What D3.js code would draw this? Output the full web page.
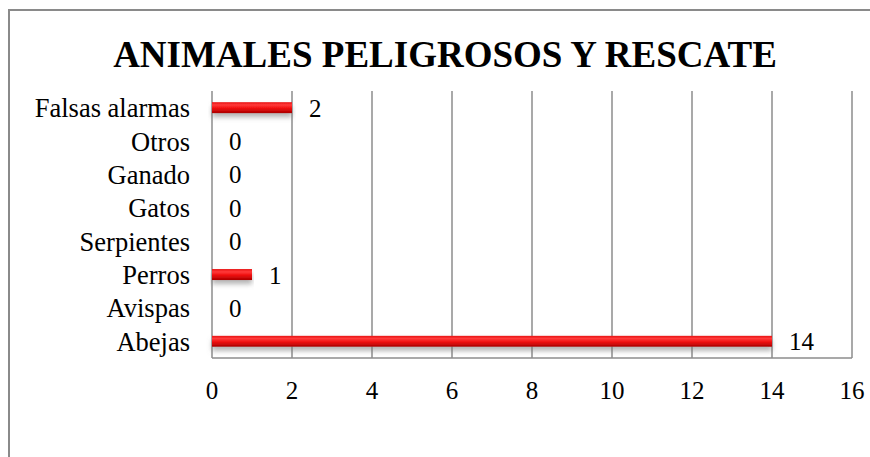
<!DOCTYPE html>
<html>
<head>
<meta charset="utf-8">
<script src="https://cdn.jsdelivr.net/npm/d3@7"></script>
<style>
  body { margin: 0; background: #fff; }
</style>
</head>
<body>
<script>
var width = 870,
    height = 457;

var categories = ["Abejas", "Avispas", "Perros", "Serpientes", "Gatos", "Ganado", "Otros", "Falsas alarmas"];
var values = [14, 0, 1, 0, 0, 0, 0, 2];
var xTicks = [0, 2, 4, 6, 8, 10, 12, 14, 16];
var title = "ANIMALES PELIGROSOS Y RESCATE";

var data = categories.map(function(c, i) { return {name: c, value: values[i]}; });

var serif = "'Liberation Serif', 'Times New Roman', serif";

var svg = d3.select("body").append("svg")
    .attr("width", width)
    .attr("height", height);

var defs = svg.append("defs");

var grad = defs.append("linearGradient")
    .attr("id", "barGrad")
    .attr("x1", 0).attr("y1", 0).attr("x2", 0).attr("y2", 1);
grad.append("stop").attr("offset", "0%").attr("stop-color", "#e81010");
grad.append("stop").attr("offset", "25%").attr("stop-color", "#ff3b3b");
grad.append("stop").attr("offset", "55%").attr("stop-color", "#f01010");
grad.append("stop").attr("offset", "100%").attr("stop-color", "#a80000");

var shadow = defs.append("filter")
    .attr("id", "shadow")
    .attr("x", "-5%").attr("y", "-50%")
    .attr("width", "110%").attr("height", "250%");
shadow.append("feDropShadow")
    .attr("dx", 0)
    .attr("dy", 4)
    .attr("stdDeviation", 2.5)
    .attr("flood-color", "#777")
    .attr("flood-opacity", 0.55);

// outer chart border (right and bottom edges fall outside the picture)
svg.append("rect")
    .attr("x", 9)
    .attr("y", 10)
    .attr("width", 900)
    .attr("height", 500)
    .attr("fill", "none")
    .attr("stroke", "#8a8a8a")
    .attr("stroke-width", 2);

svg.append("text")
    .attr("x", 445)
    .attr("y", 67)
    .attr("text-anchor", "middle")
    .style("font-family", serif)
    .style("font-size", "37px")
    .style("font-weight", "bold")
    .text(title);

var x = d3.scaleLinear()
    .domain([0, 16])
    .range([212, 852]);

var y = d3.scaleBand()
    .domain(categories)
    .range([358, 91])
    .padding(0);

var barH = 11;

// gridlines
svg.append("g")
    .selectAll("line")
    .data(xTicks)
  .enter().append("line")
    .attr("x1", function(d) { return x(d); })
    .attr("x2", function(d) { return x(d); })
    .attr("y1", 91)
    .attr("y2", 358)
    .attr("stroke", "#8c8c8c")
    .attr("stroke-width", 1.5);

svg.append("line")
    .attr("x1", x(0))
    .attr("x2", x(16))
    .attr("y1", 358)
    .attr("y2", 358)
    .attr("stroke", "#8c8c8c")
    .attr("stroke-width", 1.5);

// tick labels
svg.append("g")
    .selectAll("text")
    .data(xTicks)
  .enter().append("text")
    .attr("x", function(d) { return x(d); })
    .attr("y", 399)
    .attr("text-anchor", "middle")
    .style("font-family", serif)
    .style("font-size", "25px")
    .text(function(d) { return d; });

// bars
svg.append("g")
    .selectAll("rect")
    .data(data.filter(function(d) { return d.value > 0; }))
  .enter().append("rect")
    .attr("x", x(0))
    .attr("y", function(d) { return y(d.name) + y.bandwidth() / 2 - barH / 2; })
    .attr("width", function(d) { return x(d.value) - x(0); })
    .attr("height", barH)
    .attr("fill", "url(#barGrad)")
    .attr("filter", "url(#shadow)");

// category labels
svg.append("g")
    .selectAll("text")
    .data(data)
  .enter().append("text")
    .attr("x", 190)
    .attr("y", function(d) { return y(d.name) + y.bandwidth() / 2; })
    .attr("dy", "0.36em")
    .attr("text-anchor", "end")
    .style("font-family", serif)
    .style("font-size", "26.5px")
    .text(function(d) { return d.name; });

// value labels
svg.append("g")
    .selectAll("text")
    .data(data)
  .enter().append("text")
    .attr("x", function(d) { return x(d.value) + 17; })
    .attr("y", function(d) { return y(d.name) + y.bandwidth() / 2; })
    .attr("dy", "0.36em")
    .style("font-family", serif)
    .style("font-size", "25px")
    .text(function(d) { return d.value; });
</script>
</body>
</html>
